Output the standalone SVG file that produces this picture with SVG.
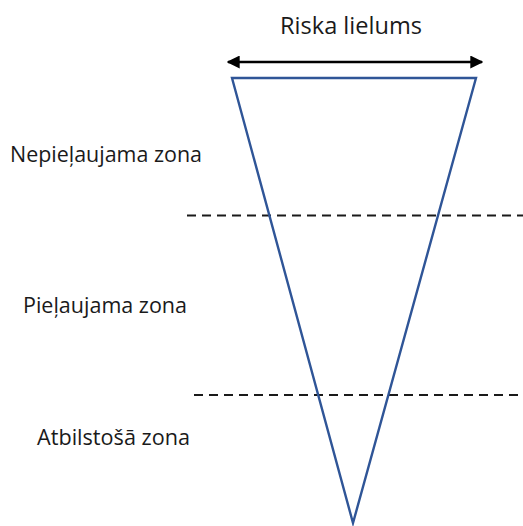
<svg xmlns="http://www.w3.org/2000/svg" width="523" height="526" viewBox="0 0 523 526">
  <style>
    .lbl { font-family: "Open Sans", "Noto Sans", "Liberation Sans", sans-serif; fill: #1a1a1a; }
    .zone { stroke: #1a1a1a; stroke-width: 2; stroke-dasharray: 9 6; fill: none; }
    .tri { stroke: #2f5597; stroke-width: 2.4; fill: none; stroke-linejoin: miter; }
  </style>
  <defs>
    <marker id="head" viewBox="0 0 10 10" refX="9" refY="5" markerWidth="5.2" markerHeight="5.2" orient="auto-start-reverse" markerUnits="strokeWidth">
      <path d="M0,0 L10,5 L0,10 Z" fill="#000"/>
    </marker>
  </defs>
  <rect width="523" height="526" fill="#fff"/>

  <g id="connectors">
    <line x1="228" y1="62" x2="482" y2="62" stroke="#000" stroke-width="2.5" marker-start="url(#head)" marker-end="url(#head)"/>
    <line class="zone" x1="187" y1="215.5" x2="523" y2="215.5"/>
    <line class="zone" x1="194" y1="395" x2="523" y2="395"/>
  </g>

  <g id="risk-triangle">
    <path class="tri" d="M232,78 L476,78 L353,523 Z"/>
  </g>

  <g id="title">
    <text class="lbl" x="351" y="34" font-size="23" text-anchor="middle" textLength="142" lengthAdjust="spacingAndGlyphs">Riska lielums</text>
  </g>
  <g id="zone-unacceptable">
    <text class="lbl" x="10" y="162" font-size="21" textLength="192" lengthAdjust="spacingAndGlyphs">Nepieļaujama zona</text>
  </g>
  <g id="zone-tolerable">
    <text class="lbl" x="23" y="313" font-size="21" textLength="164" lengthAdjust="spacingAndGlyphs">Pieļaujama zona</text>
  </g>
  <g id="zone-acceptable">
    <text class="lbl" x="37" y="445" font-size="21" textLength="153" lengthAdjust="spacingAndGlyphs">Atbilstošā zona</text>
  </g>
</svg>
